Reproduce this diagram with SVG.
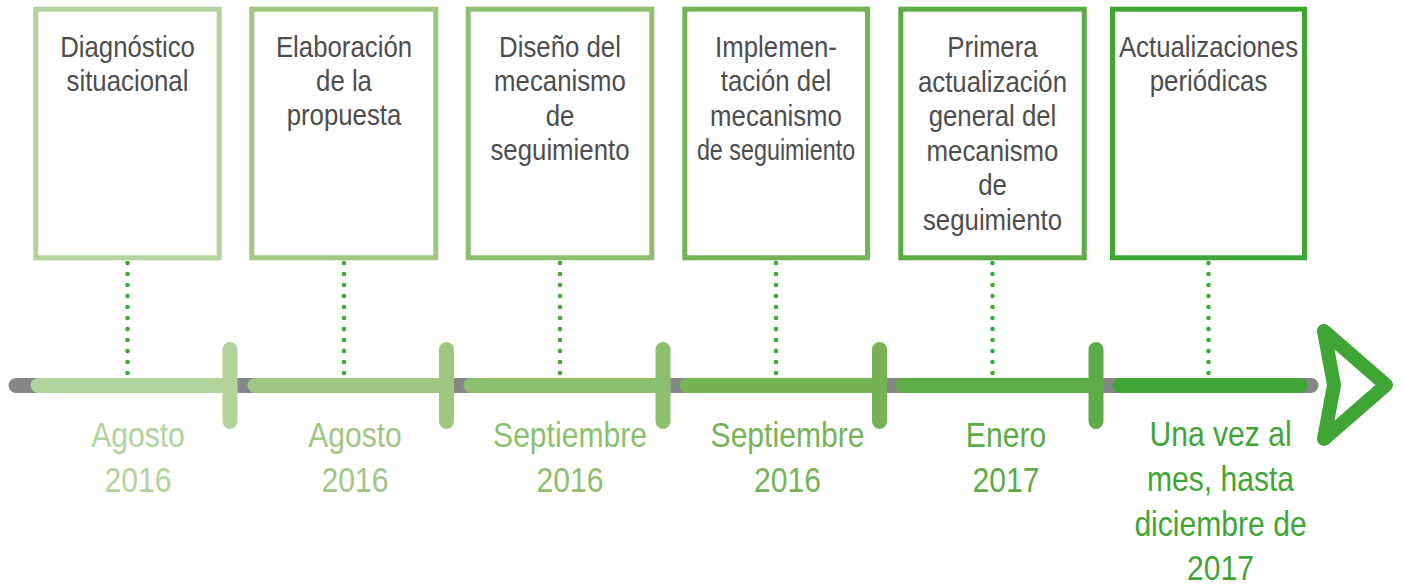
<svg xmlns="http://www.w3.org/2000/svg" width="1403" height="586" viewBox="0 0 1403 586">
<style>
  .box { fill: #ffffff; stroke-width: 5; }
  .bt { font-family: "Liberation Sans", Arial, sans-serif; font-size: 30px; fill: #4d4d4d; text-anchor: middle; }
  .dt { font-family: "Liberation Sans", Arial, sans-serif; font-size: 35px; text-anchor: middle; }
  .dots { stroke: #3aa935; stroke-width: 4.6; stroke-linecap: round; stroke-dasharray: 0 11; fill: none; }
  .bar { stroke-width: 15; stroke-linecap: round; fill: none; }
  .c1 { stroke: #b1d39c; } .f1 { fill: #b1d39c; }
  .c2 { stroke: #9fc683; } .f2 { fill: #9fc683; }
  .c3 { stroke: #8cbf6e; } .f3 { fill: #8cbf6e; }
  .c4 { stroke: #75b356; } .f4 { fill: #75b356; }
  .c5 { stroke: #5dab46; } .f5 { fill: #5dab46; }
  .c6 { stroke: #3fa535; } .f6 { fill: #3fa535; }
</style>
<rect width="1403" height="586" fill="#ffffff"/>

<g id="connectors">
  <line class="dots" x1="127.5" y1="263" x2="127.5" y2="374"/>
  <line class="dots" x1="344" y1="263" x2="344" y2="374"/>
  <line class="dots" x1="560" y1="263" x2="560" y2="374"/>
  <line class="dots" x1="776" y1="263" x2="776" y2="374"/>
  <line class="dots" x1="992.5" y1="263" x2="992.5" y2="374"/>
  <line class="dots" x1="1208.5" y1="263" x2="1208.5" y2="374"/>
</g>

<g id="timeline">
  <line class="bar" x1="16" y1="385.5" x2="1311" y2="385.5" stroke="#878787"/>
  <line class="bar c1" x1="38" y1="385.5" x2="230" y2="385.5"/>
  <line class="bar c2" x1="255" y1="385.5" x2="446.5" y2="385.5"/>
  <line class="bar c3" x1="471" y1="385.5" x2="663" y2="385.5"/>
  <line class="bar c4" x1="687" y1="385.5" x2="879.5" y2="385.5"/>
  <line class="bar c5" x1="903" y1="385.5" x2="1096" y2="385.5"/>
  <line class="bar c6" x1="1120" y1="385.5" x2="1300" y2="385.5"/>
  <line class="bar c1" x1="230" y1="349.5" x2="230" y2="421.5"/>
  <line class="bar c2" x1="446.5" y1="349.5" x2="446.5" y2="421.5"/>
  <line class="bar c3" x1="663" y1="349.5" x2="663" y2="421.5"/>
  <line class="bar c4" x1="879.5" y1="349.5" x2="879.5" y2="421.5"/>
  <line class="bar c5" x1="1096" y1="349.5" x2="1096" y2="421.5"/>
  <polygon points="1324,331 1386,385 1324,439 1334,385" fill="none" stroke="#3fa535" stroke-width="14" stroke-linejoin="round"/>
</g>

<g id="node1">
  <rect class="box c1" x="35.8" y="9.2" width="183.4" height="248.6"/>
  <text class="bt" transform="translate(127.5 0) scale(0.86 1)"><tspan x="0" y="57">Diagnóstico</tspan><tspan x="0" y="91">situacional</tspan></text>
  <text class="dt f1" transform="translate(138 0) scale(0.86 1)"><tspan x="0" y="447.5">Agosto</tspan><tspan x="0" y="491.7">2016</tspan></text>
</g>

<g id="node2">
  <rect class="box c2" x="251.8" y="9.2" width="184" height="248.6"/>
  <text class="bt" transform="translate(344 0) scale(0.86 1)"><tspan x="0" y="57">Elaboración</tspan><tspan x="0" y="91">de la</tspan><tspan x="0" y="125">propuesta</tspan></text>
  <text class="dt f2" transform="translate(355 0) scale(0.86 1)"><tspan x="0" y="447.5">Agosto</tspan><tspan x="0" y="491.7">2016</tspan></text>
</g>

<g id="node3">
  <rect class="box c3" x="468.2" y="9.2" width="183.6" height="248.6"/>
  <text class="bt" transform="translate(560 0) scale(0.86 1)"><tspan x="0" y="57">Diseño del</tspan><tspan x="0" y="91.5">mecanismo</tspan><tspan x="0" y="126">de</tspan><tspan x="0" y="160.5">seguimiento</tspan></text>
  <text class="dt f3" transform="translate(570 0) scale(0.86 1)"><tspan x="0" y="447.5">Septiembre</tspan><tspan x="0" y="491.7">2016</tspan></text>
</g>

<g id="node4">
  <rect class="box c4" x="684.8" y="9.2" width="182.7" height="248.6"/>
  <text class="bt" transform="translate(776 0) scale(0.86 1)"><tspan x="0" y="57">Implemen-</tspan><tspan x="0" y="91.5">tación del</tspan><tspan x="0" y="126">mecanismo</tspan><tspan x="0" y="160.5" textLength="184" lengthAdjust="spacingAndGlyphs">de seguimiento</tspan></text>
  <text class="dt f4" transform="translate(787.5 0) scale(0.86 1)"><tspan x="0" y="447.5">Septiembre</tspan><tspan x="0" y="491.7">2016</tspan></text>
</g>

<g id="node5">
  <rect class="box c5" x="900.8" y="9.2" width="183.4" height="248.6"/>
  <text class="bt" transform="translate(992.5 0) scale(0.86 1)"><tspan x="0" y="57">Primera</tspan><tspan x="0" y="91.6">actualización</tspan><tspan x="0" y="126.2">general del</tspan><tspan x="0" y="160.8">mecanismo</tspan><tspan x="0" y="195.4">de</tspan><tspan x="0" y="230">seguimiento</tspan></text>
  <text class="dt f5" transform="translate(1006 0) scale(0.86 1)"><tspan x="0" y="447.5">Enero</tspan><tspan x="0" y="491.7">2017</tspan></text>
</g>

<g id="node6">
  <rect class="box c6" x="1112.5" y="9.2" width="192" height="248.6"/>
  <text class="bt" transform="translate(1208.5 0) scale(0.86 1)"><tspan x="0" y="57">Actualizaciones</tspan><tspan x="0" y="91">periódicas</tspan></text>
  <text class="dt f6" transform="translate(1220.5 0) scale(0.86 1)"><tspan x="0" y="446.5">Una vez al</tspan><tspan x="0" y="491.2">mes, hasta</tspan><tspan x="0" y="535.8">diciembre de</tspan><tspan x="0" y="580.5">2017</tspan></text>
</g>
</svg>
